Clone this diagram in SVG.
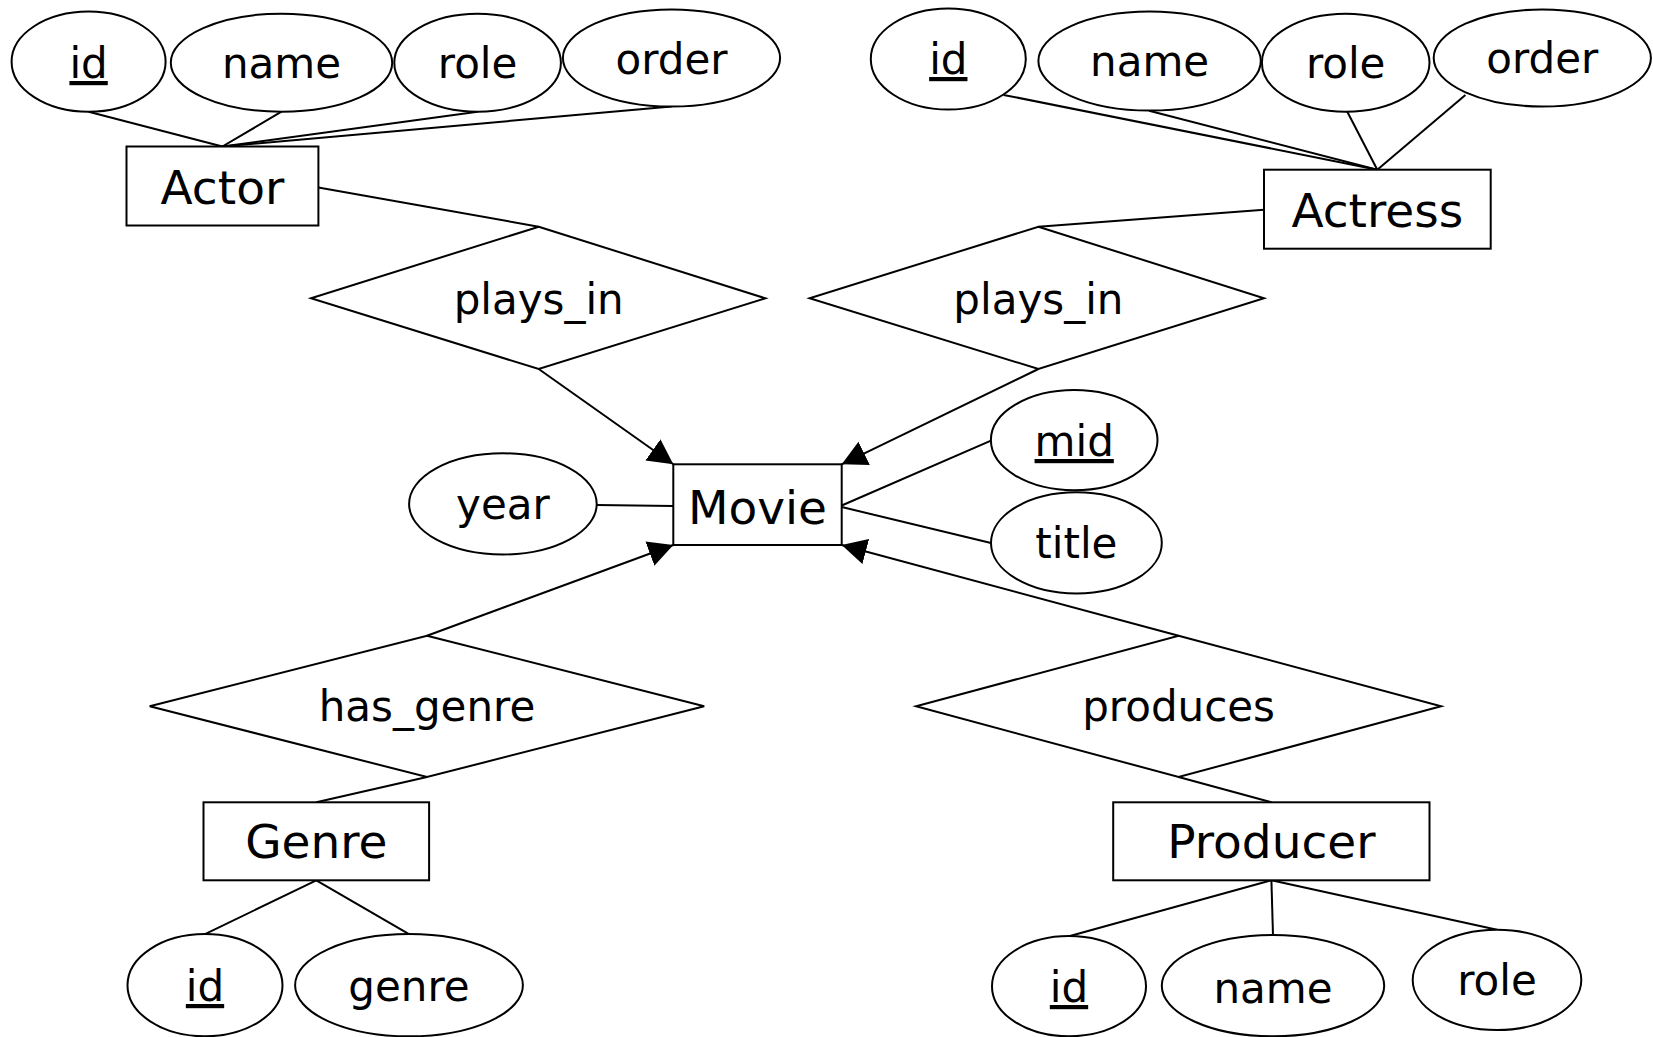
<svg xmlns="http://www.w3.org/2000/svg" width="1653" height="1037" viewBox="0 0 1653 1037">
<style>
.s{fill:#fff;stroke:#000;stroke-width:2}
.c line{stroke:#000;stroke-width:2}
text{font-family:"DejaVu Sans","Verdana",sans-serif;fill:#000;text-anchor:middle}
.a{font-size:42px}
.e{font-size:47px}
.u{text-decoration:underline}
</style>
<defs>
<marker id="arr" markerUnits="userSpaceOnUse" markerWidth="26" markerHeight="28" viewBox="0 -13 25 26" refX="24" refY="0" orient="auto">
<path d="M0,-12.5 L24,0 L0,12.5 z" fill="#000"/>
</marker>
</defs>
<rect width="1653" height="1037" fill="#fff"/>
<g id="connectors" class="c">
<line x1="88.6" y1="111.8" x2="222.4" y2="146.5"/>
<line x1="281.5" y1="111.7" x2="222.4" y2="146.5"/>
<line x1="477.6" y1="111.7" x2="222.4" y2="146.5"/>
<line x1="671.5" y1="106.5" x2="222.4" y2="146.5"/>
<line x1="318.4" y1="187.6" x2="538.7" y2="226.7"/>
<line x1="538.7" y1="369" x2="673.3" y2="464.3" marker-end="url(#arr)"/>
<line x1="1003.6" y1="94.9" x2="1377.3" y2="169.7"/>
<line x1="1149.1" y1="110.7" x2="1377.3" y2="169.7"/>
<line x1="1347.3" y1="111.7" x2="1377.3" y2="169.7"/>
<line x1="1465.4" y1="94.9" x2="1377.3" y2="169.7"/>
<line x1="1264" y1="209.8" x2="1038.4" y2="226.7"/>
<line x1="1038.4" y1="369" x2="841.7" y2="464.3" marker-end="url(#arr)"/>
<line x1="596.7" y1="505" x2="673.3" y2="506"/>
<line x1="841.7" y1="505.5" x2="991" y2="440.7"/>
<line x1="841.7" y1="507" x2="991" y2="543"/>
<line x1="427" y1="635.7" x2="673.3" y2="545" marker-end="url(#arr)"/>
<line x1="427" y1="777" x2="316.3" y2="802.3"/>
<line x1="316.3" y1="880.3" x2="205" y2="934.2"/>
<line x1="316.3" y1="880.3" x2="409" y2="934.2"/>
<line x1="1178.6" y1="635.7" x2="841.7" y2="545" marker-end="url(#arr)"/>
<line x1="1178.6" y1="777" x2="1271.4" y2="802.3"/>
<line x1="1271.4" y1="880.3" x2="1069" y2="936.2"/>
<line x1="1271.4" y1="880.3" x2="1273" y2="935.1"/>
<line x1="1271.4" y1="880.3" x2="1497" y2="929.8"/>
</g>
<g id="actor_id"><ellipse class="s" cx="88.6" cy="61.7" rx="77" ry="50.1"/><text class="a u" x="88.6" y="78">id</text></g>
<g id="actor_name"><ellipse class="s" cx="281.5" cy="62.7" rx="110.7" ry="49"/><text class="a" x="281.5" y="78">name</text></g>
<g id="actor_role"><ellipse class="s" cx="477.6" cy="62.7" rx="83.3" ry="49"/><text class="a" x="477.6" y="78">role</text></g>
<g id="actor_order"><ellipse class="s" cx="671.5" cy="58" rx="108.6" ry="48.5"/><text class="a" x="671.5" y="74">order</text></g>
<g id="actor"><rect class="s" x="126.5" y="146.5" width="191.9" height="79"/><text class="e" x="222.4" y="204">Actor</text></g>
<g id="actress_id"><ellipse class="s" cx="948.3" cy="59" rx="77.5" ry="50.6"/><text class="a u" x="948.3" y="74">id</text></g>
<g id="actress_name"><ellipse class="s" cx="1149.6" cy="61.1" rx="111.2" ry="49.5"/><text class="a" x="1149.6" y="76">name</text></g>
<g id="actress_role"><ellipse class="s" cx="1345.7" cy="62.7" rx="83.8" ry="49"/><text class="a" x="1345.7" y="78">role</text></g>
<g id="actress_order"><ellipse class="s" cx="1542.3" cy="58" rx="108.6" ry="48.5"/><text class="a" x="1542.3" y="73">order</text></g>
<g id="actress"><rect class="s" x="1264" y="169.7" width="226.7" height="79"/><text class="e" x="1377.3" y="227">Actress</text></g>
<g id="plays_in_1"><polygon class="s" points="538.7,226.7 765.4,298.3 538.7,369 311,298.3"/><text class="a" x="538.7" y="314">plays_in</text></g>
<g id="plays_in_2"><polygon class="s" points="1038.4,226.7 1264,298.3 1038.4,369 809.6,298.3"/><text class="a" x="1038.4" y="314">plays_in</text></g>
<g id="movie"><rect class="s" x="673.3" y="464.3" width="168.4" height="80.7"/><text class="e" x="757.5" y="524">Movie</text></g>
<g id="movie_year"><ellipse class="s" cx="502.9" cy="503.9" rx="93.8" ry="50.6"/><text class="a" x="502.9" y="519">year</text></g>
<g id="movie_mid"><ellipse class="s" cx="1074.2" cy="440.1" rx="83.3" ry="50.1"/><text class="a u" x="1074.2" y="456">mid</text></g>
<g id="movie_title"><ellipse class="s" cx="1076.4" cy="542.9" rx="85.4" ry="50.6"/><text class="a" x="1076.4" y="558">title</text></g>
<g id="has_genre"><polygon class="s" points="427,635.7 704.2,706.3 427,777 149.7,706.3"/><text class="a" x="427" y="721">has_genre</text></g>
<g id="genre"><rect class="s" x="203.5" y="802.3" width="225.6" height="78"/><text class="e" x="316.3" y="858">Genre</text></g>
<g id="genre_id"><ellipse class="s" cx="205" cy="985.2" rx="77.5" ry="51.1"/><text class="a u" x="205" y="1001">id</text></g>
<g id="genre_genre"><ellipse class="s" cx="409" cy="985.2" rx="113.9" ry="51.1"/><text class="a" x="409" y="1001">genre</text></g>
<g id="produces"><polygon class="s" points="1178.6,635.7 1441.1,706.3 1178.6,777 916.1,706.3"/><text class="a" x="1178.6" y="721">produces</text></g>
<g id="producer"><rect class="s" x="1113.2" y="802.3" width="316.3" height="78"/><text class="e" x="1271.4" y="858">Producer</text></g>
<g id="producer_id"><ellipse class="s" cx="1069" cy="986.2" rx="77" ry="50.1"/><text class="a u" x="1069" y="1002">id</text></g>
<g id="producer_name"><ellipse class="s" cx="1273" cy="985.7" rx="111.2" ry="50.6"/><text class="a" x="1273" y="1003">name</text></g>
<g id="producer_role"><ellipse class="s" cx="1497" cy="979.9" rx="84.3" ry="50.1"/><text class="a" x="1497" y="995">role</text></g>
</svg>
